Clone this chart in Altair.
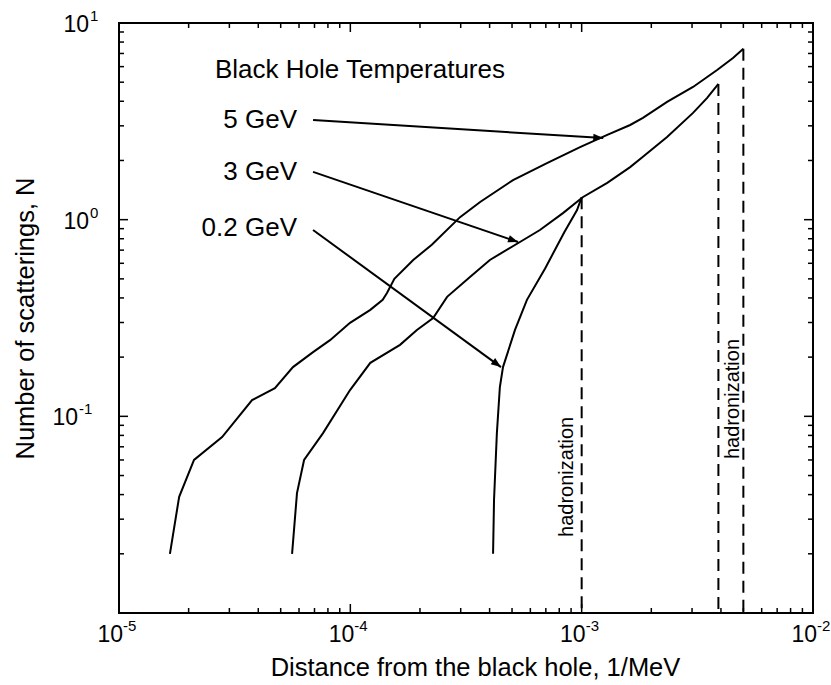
import math
import altair as alt
import pandas as pd

# Number of scatterings N versus distance from the black hole (1/MeV)
x_5gev = [1.66e-5, 1.82e-5, 2.11e-5, 2.79e-5, 3.76e-5, 4.72e-5, 5.65e-5, 6.90e-5,
          8.17e-5, 9.97e-5, 1.22e-4, 1.38e-4, 1.44e-4, 1.55e-4, 1.87e-4, 2.25e-4,
          2.98e-4, 3.64e-4, 5.05e-4, 7.08e-4, 9.84e-4, 1.29e-3, 1.62e-3, 1.84e-3,
          2.34e-3, 3.03e-3, 3.85e-3, 4.51e-3, 5.0e-3]
y_5gev = [0.020, 0.039, 0.060, 0.0785, 0.121, 0.139, 0.178, 0.212,
          0.244, 0.299, 0.348, 0.391, 0.424, 0.50, 0.624, 0.745,
          1.03, 1.23, 1.59, 1.94, 2.34, 2.70, 3.03, 3.29,
          3.97, 4.73, 5.77, 6.64, 7.4]

x_3gev = [5.60e-5, 5.88e-5, 6.31e-5, 7.62e-5, 9.97e-5, 1.22e-4, 1.64e-4, 1.94e-4,
          2.28e-4, 2.62e-4, 3.29e-4, 4.01e-4, 5.41e-4, 6.60e-4, 8.30e-4, 1.01e-3,
          1.29e-3, 1.62e-3, 1.84e-3, 2.34e-3, 3.03e-3, 3.48e-3, 3.9e-3]
y_3gev = [0.020, 0.0407, 0.060, 0.0822, 0.136, 0.187, 0.231, 0.275,
          0.316, 0.405, 0.511, 0.624, 0.770, 0.886, 1.08, 1.30,
          1.54, 1.85, 2.09, 2.63, 3.49, 4.15, 4.9]

x_02gev = [4.14e-4, 4.18e-4, 4.30e-4, 4.43e-4, 4.57e-4, 5.15e-4, 5.80e-4, 6.95e-4,
           8.40e-4, 9.55e-4, 1.0e-3]
y_02gev = [0.020, 0.0376, 0.0822, 0.141, 0.178, 0.275, 0.391, 0.565,
           0.86, 1.12, 1.30]

# Hadronization thresholds (dashed verticals), topped at each curve's end
hadron_x = [1.0e-3, 3.9e-3, 5.0e-3]
hadron_top = [1.30, 4.9, 7.4]

# Temperature labels with their arrows
temp_labels = ["5 GeV", "3 GeV", "0.2 GeV"]
label_x = [5.88e-5, 5.88e-5, 5.88e-5]
label_y = [3.21, 1.75, 0.905]
arrow_x0 = [6.9e-5, 6.9e-5, 6.9e-5]
arrow_y0 = [3.21, 1.75, 0.886]
arrow_x1 = [1.24e-3, 5.31e-4, 4.48e-4]
arrow_y1 = [2.60, 0.77, 0.178]

heading = "Black Hole Temperatures"
heading_x, heading_y = 2.6e-5, 5.77

hadron_label = "hadronization"
hadron_label_x = [8.65e-4, 4.51e-3]
hadron_label_y = [0.0492, 0.1225]

# Decade tick labels: mantissa "10" plus a raised exponent
x_ticks_major = [1e-5, 1e-4, 1e-3, 1e-2]
x_tick_exp = ["-5", "-4", "-3", "-2"]
y_ticks_major = [1e-1, 1e0, 1e1]
y_tick_exp = ["-1", "0", "1"]

W, H = 694, 590
FONT = "Liberation Sans"

x_minor = [m * 10.0 ** e for e in (-5, -4, -3) for m in range(2, 10)]
y_minor = [m * 10.0 ** e for e in (-2, -1, 0) for m in range(2, 10)]

xscale = alt.Scale(type="log", domain=[1e-5, 1e-2], nice=False)
yscale = alt.Scale(type="log", domain=[1e-2, 10], nice=False)

xaxis = alt.Axis(
    values=x_ticks_major, labels=False,
    title="Distance from the black hole, 1/MeV",
    titleX=356, titleY=54, titleBaseline="middle", titleAlign="center",
)
yaxis = alt.Axis(
    values=y_ticks_major, labels=False,
    title="Number of scatterings, N",
    titleX=-94, titleY=295, titleAngle=270, titleBaseline="middle", titleAlign="center",
)

X = lambda f="x": alt.X(f"{f}:Q", scale=xscale, axis=xaxis)
Y = lambda f="y": alt.Y(f"{f}:Q", scale=yscale, axis=yaxis)

rows = []
for name, xs, ys in (("5 GeV", x_5gev, y_5gev), ("3 GeV", x_3gev, y_3gev),
                     ("0.2 GeV", x_02gev, y_02gev)):
    for i, (a, b) in enumerate(zip(xs, ys)):
        rows.append({"series": name, "i": i, "x": a, "y": b})
curves = pd.DataFrame(rows)

lines = alt.Chart(curves).mark_line(color="black", strokeWidth=2).encode(
    x=X(), y=Y(), detail="series:N", order="i:Q"
)

hadron = pd.DataFrame({"x": hadron_x, "y": hadron_top})
dashed = alt.Chart(hadron).mark_rule(color="black", strokeWidth=2, strokeDash=[12, 7]).encode(
    x=X(), y=Y(), y2=alt.value(H)
)

# arrows: shaft plus a filled head rotated along the shaft direction
ang = []
for a0, b0, a1, b1 in zip(arrow_x0, arrow_y0, arrow_x1, arrow_y1):
    dx = (math.log10(a1) - math.log10(a0)) * W / 3
    dy = -(math.log10(b1) - math.log10(b0)) * H / 3
    ang.append(math.degrees(math.atan2(dy, dx)) % 360)
arrows = pd.DataFrame({"x": arrow_x0, "y": arrow_y0, "x2": arrow_x1, "y2": arrow_y1, "ang": ang})
shafts = alt.Chart(arrows).mark_rule(color="black", strokeWidth=2).encode(
    x=X(), y=Y(), x2="x2:Q", y2="y2:Q"
)
heads = alt.Chart(arrows).mark_point(
    shape="M0,0 L-1,-0.38 L-1,0.38 Z", filled=True, color="black", opacity=1, size=400
).encode(
    x=alt.X("x2:Q", scale=xscale, axis=xaxis),
    y=alt.Y("y2:Q", scale=yscale, axis=yaxis),
    angle=alt.Angle("ang:Q", scale=None),
)

labels = alt.Chart(pd.DataFrame({"x": label_x, "y": label_y, "t": temp_labels})).mark_text(
    align="right", baseline="middle", font=FONT, fontSize=26, color="black"
).encode(x=X(), y=Y(), text="t:N")

head_text = alt.Chart(pd.DataFrame({"x": [heading_x], "y": [heading_y], "t": [heading]})).mark_text(
    align="left", baseline="middle", font=FONT, fontSize=26, color="black"
).encode(x=X(), y=Y(), text="t:N")

hadron_text = alt.Chart(pd.DataFrame({"x": hadron_label_x, "y": hadron_label_y,
                                      "t": [hadron_label] * 2})).mark_text(
    align="center", baseline="middle", angle=270, font=FONT, fontSize=20, color="black"
).encode(x=X(), y=Y(), text="t:N")

# x tick labels under the frame
xlab = pd.DataFrame({"x": x_ticks_major, "m": ["10"] * 4, "e": x_tick_exp})
x_mant = alt.Chart(xlab).mark_text(
    align="right", baseline="middle", dx=4, font=FONT, fontSize=23, color="black"
).encode(x=X(), y=alt.value(H + 22), text="m:N")
x_expo = alt.Chart(xlab).mark_text(
    align="left", baseline="middle", dx=4, font=FONT, fontSize=15, color="black"
).encode(x=X(), y=alt.value(H + 13), text="e:N")

# y tick labels left of the frame; each mantissa ends where its exponent begins
y_label_layers = []
for v, e in zip(y_ticks_major, y_tick_exp):
    d = pd.DataFrame({"y": [v], "m": ["10"], "e": [e]})
    edge = -41 if e.startswith("-") else -30
    y_label_layers.append(alt.Chart(d).mark_text(
        align="right", baseline="middle", dy=2, font=FONT, fontSize=23, color="black"
    ).encode(y=Y(), x=alt.value(edge), text="m:N"))
    y_label_layers.append(alt.Chart(d).mark_text(
        align="left", baseline="middle", dy=-7, font=FONT, fontSize=15, color="black"
    ).encode(y=Y(), x=alt.value(edge + 1), text="e:N"))

# inward frame ticks on all four sides
def xticks(vals, length):
    df = pd.DataFrame({"x": vals})
    base = alt.Chart(df).mark_rule(color="black", strokeWidth=1.5)
    return [base.encode(x=X(), y=alt.value(H), y2=alt.value(H - length)),
            base.encode(x=X(), y=alt.value(0), y2=alt.value(length))]

def yticks(vals, length):
    df = pd.DataFrame({"y": vals})
    base = alt.Chart(df).mark_rule(color="black", strokeWidth=1.5)
    return [base.encode(y=Y(), x=alt.value(0), x2=alt.value(length)),
            base.encode(y=Y(), x=alt.value(W), x2=alt.value(W - length))]

tick_layers = (xticks(x_ticks_major[1:-1], 9) + xticks(x_minor, 5)
               + yticks(y_ticks_major[:-1], 9) + yticks(y_minor, 5))

chart = alt.layer(
    lines, dashed, shafts, heads, labels, head_text, hadron_text,
    x_mant, x_expo, *y_label_layers, *tick_layers
).properties(
    width=W, height=H,
    autosize=alt.AutoSizeParams(type="none"),
    padding={"left": 119, "top": 23, "right": 18, "bottom": 72},
    background="white",
).configure_view(
    stroke="black", strokeWidth=2
).configure_axis(
    domain=False, ticks=False, grid=False,
    titleFont=FONT, titleFontSize=25.5, titleFontWeight="normal", titleColor="black",
)

chart.save("out.html", embed_options={"renderer": "svg", "actions": False})
